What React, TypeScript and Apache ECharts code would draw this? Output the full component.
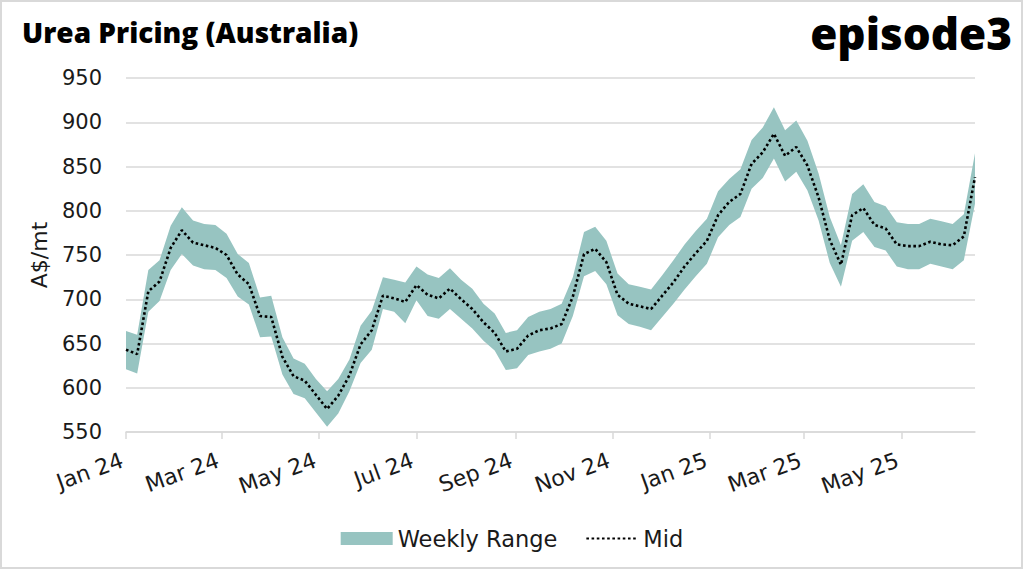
import React, { useEffect, useRef } from "react";
import * as echarts from "echarts";

const weekDates: string[] = [
  "2024-01-01", "2024-01-08", "2024-01-15", "2024-01-22", "2024-01-29", "2024-02-05", "2024-02-12", "2024-02-19",
  "2024-02-26", "2024-03-04", "2024-03-11", "2024-03-18", "2024-03-25", "2024-04-01", "2024-04-08", "2024-04-15",
  "2024-04-22", "2024-04-29", "2024-05-06", "2024-05-13", "2024-05-20", "2024-05-27", "2024-06-03", "2024-06-10",
  "2024-06-17", "2024-06-24", "2024-07-01", "2024-07-08", "2024-07-15", "2024-07-22", "2024-07-29", "2024-08-05",
  "2024-08-12", "2024-08-19", "2024-08-26", "2024-09-02", "2024-09-09", "2024-09-16", "2024-09-23", "2024-09-30",
  "2024-10-07", "2024-10-14", "2024-10-21", "2024-10-28", "2024-11-04", "2024-11-11", "2024-11-18", "2024-11-25",
  "2024-12-02", "2024-12-09", "2024-12-16", "2024-12-23", "2024-12-30", "2025-01-06", "2025-01-13", "2025-01-20",
  "2025-01-27", "2025-02-03", "2025-02-10", "2025-02-17", "2025-02-24", "2025-03-03", "2025-03-10", "2025-03-17",
  "2025-03-24", "2025-03-31", "2025-04-07", "2025-04-14", "2025-04-21", "2025-04-28", "2025-05-05", "2025-05-12",
  "2025-05-19", "2025-05-26", "2025-06-02", "2025-06-09", "2025-06-16",
];

const rangeHigh: number[] = [
  664, 660, 733, 744, 783, 804, 789, 785, 784, 774, 751, 741, 702, 704, 657, 633,
  627, 610, 596, 610, 632, 670, 687, 725, 722, 719, 737, 728, 724, 735, 722, 712,
  695, 684, 662, 665, 680, 686, 689, 695, 725, 776, 782, 766, 729, 717, 714, 711,
  727, 744, 762, 777, 791, 822, 836, 847, 880, 894, 917, 891, 902, 879, 842, 793,
  761, 819, 830, 810, 805, 787, 785, 785, 791, 788, 785, 796, 865,
];

const rangeLow: number[] = [
  621, 616, 686, 698, 733, 751, 738, 734, 733, 724, 703, 694, 657, 658, 615, 593,
  588, 572, 556, 571, 596, 628, 643, 689, 686, 673, 699, 681, 678, 689, 678, 667,
  653, 642, 620, 622, 637, 641, 644, 650, 681, 726, 732, 717, 682, 672, 669, 665,
  680, 695, 711, 726, 740, 770, 784, 793, 825, 837, 859, 833, 844, 823, 789, 741,
  714, 766, 776, 759, 755, 737, 734, 734, 740, 737, 734, 744, 808,
];

const midPrice: number[] = [
  643, 638, 709, 720, 758, 778, 764, 761, 758, 750, 728, 717, 681, 680, 635, 613,
  608, 592, 576, 591, 614, 649, 665, 704, 701, 697, 716, 705, 701, 712, 700, 689,
  674, 662, 641, 644, 659, 665, 667, 672, 703, 751, 757, 742, 705, 695, 692, 689,
  704, 719, 737, 752, 766, 795, 810, 819, 853, 866, 887, 862, 872, 851, 815, 767,
  739, 795, 803, 784, 780, 762, 760, 760, 765, 762, 761, 771, 838,
];

const xTickDates: string[] = [
  "2024-01-01", "2024-03-01", "2024-05-01", "2024-07-01", "2024-09-01",
  "2024-11-01", "2025-01-01", "2025-03-01", "2025-05-01",
];
const xTickLabels: string[] = [
  "Jan 24", "Mar 24", "May 24", "Jul 24", "Sep 24", "Nov 24", "Jan 25", "Mar 25", "May 25",
];

const yMin = 550;
const yMax = 950;
const yStep = 50;

const TEAL = "#97c4c1";
const GRID = "#d9d9d9";
const TEXT = "#1a1a1a";
const FONT = "'DejaVu Sans', sans-serif";

const ts = (d: string) => Date.parse(d + "T00:00:00Z");

export default function App() {
  const ref = useRef<HTMLDivElement>(null);

  useEffect(() => {
    if (!ref.current) return;
    const chart = echarts.init(ref.current, undefined, { renderer: "svg" });
    const xs = weekDates.map(ts);
    const tickTs = xTickDates.map(ts);

    const option: any = {
      animation: false,
      backgroundColor: "#ffffff",
      title: {
        text: "Urea Pricing (Australia)",
        left: 17,
        top: 13,
        textStyle: { fontFamily: "'Open Sans', sans-serif", fontWeight: 800, fontSize: 28, color: "#000" },
      },
      graphic: [
        {
          type: "rect",
          silent: true,
          shape: { x: 1, y: 1, width: 1021, height: 567 },
          style: { fill: "none", stroke: GRID, lineWidth: 2 },
        },
        {
          type: "text",
          right: 12,
          top: 11,
          style: {
            text: "episode3",
            fontFamily: "'Open Sans', sans-serif",
            fontWeight: 800,
            fontSize: 44,
            fill: "#000",
          },
        },
      ],
      grid: { left: 126, right: 49, top: 78, bottom: 138, containLabel: false },
      legend: {
        top: 522,
        left: "center",
        itemWidth: 52,
        itemHeight: 13,
        itemGap: 28,
        textStyle: { fontFamily: FONT, fontSize: 22.5, color: TEXT },
        data: [
          { name: "Weekly Range", icon: "rect", itemStyle: { color: TEAL, borderWidth: 0 } },
          { name: "Mid", itemStyle: { opacity: 0 } },
        ],
      },
      xAxis: {
        type: "value",
        min: xs[0],
        max: xs[xs.length - 1],
        splitLine: { show: false },
        axisLine: { show: true, lineStyle: { color: GRID, width: 1.5 } },
        axisTick: {
          show: true,
          length: 7,
          customValues: tickTs,
          lineStyle: { color: GRID, width: 1.5 },
        },
        axisLabel: {
          customValues: tickTs,
          rotate: 20,
          margin: 26,
          padding: [0, 4, 0, 0],
          fontFamily: FONT,
          fontSize: 22,
          color: TEXT,
          formatter: (v: number) => {
            const i = tickTs.indexOf(v);
            return i >= 0 ? xTickLabels[i] : "";
          },
        },
      },
      yAxis: {
        type: "value",
        min: yMin,
        max: yMax,
        interval: yStep,
        name: "A$/mt",
        nameLocation: "middle",
        nameGap: 76,
        nameRotate: 90,
        nameTextStyle: { fontFamily: FONT, fontSize: 22, color: TEXT },
        axisLine: { show: false },
        axisTick: { show: false },
        axisLabel: { margin: 24, fontFamily: FONT, fontSize: 21, color: TEXT },
        splitLine: { show: true, lineStyle: { color: GRID, width: 1.5 } },
      },
      series: [
        {
          name: "Weekly Range",
          type: "custom",
          data: xs.map((x, i) => [x, rangeLow[i], rangeHigh[i]]),
          encode: { x: 0, y: [1, 2] },
          itemStyle: { color: TEAL },
          silent: true,
          z: 2,
          renderItem: (params: any, api: any) => {
            if (params.dataIndex !== 0) return null;
            const top = xs.map((x, i) => api.coord([x, rangeHigh[i]]));
            const bottom = xs.map((x, i) => api.coord([x, rangeLow[i]])).reverse();
            return {
              type: "polygon",
              shape: { points: top.concat(bottom) },
              style: { fill: TEAL },
            };
          },
        },
        {
          name: "Mid",
          type: "line",
          data: xs.map((x, i) => [x, midPrice[i]]),
          symbol: "none",
          itemStyle: { color: "#000" },
          lineStyle: { color: "#000", width: 2.6, type: [2.6, 2.6] },
          z: 3,
        },
      ],
    };
    chart.setOption(option);
    return () => chart.dispose();
  }, []);

  return (
    <div
      ref={ref}
      style={{ position: "fixed", left: 0, top: 0, width: 1024, height: 570 }}
    />
  );
}
